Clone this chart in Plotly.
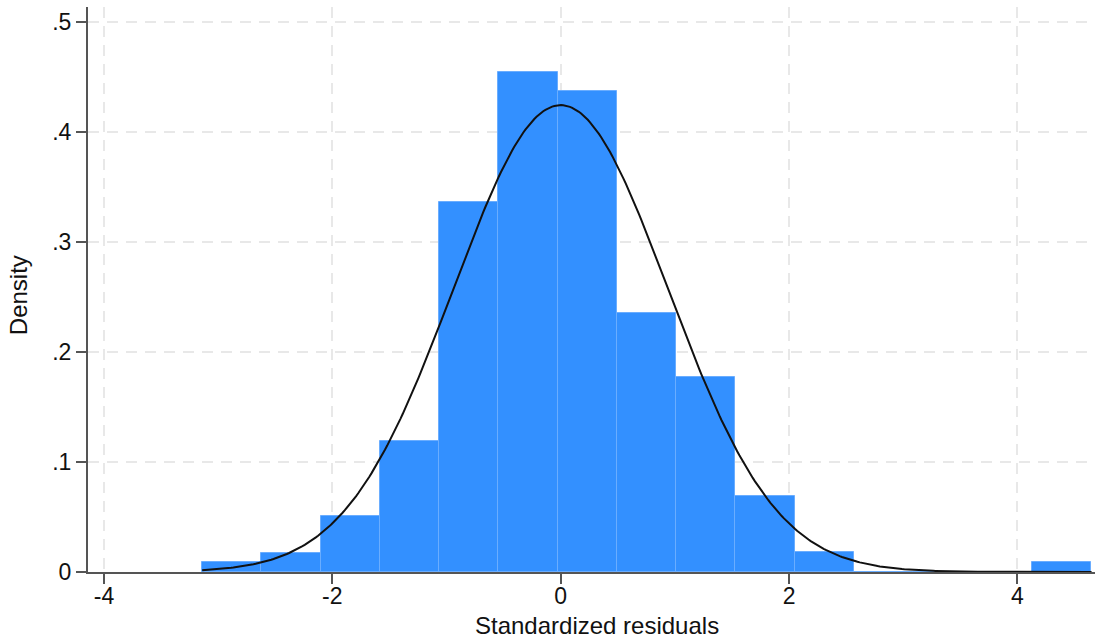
import numpy as np
import plotly.graph_objects as go

# Histogram of standardized residuals (density scale)
bin_start = -3.14
bin_width = 0.519
densities = [0.009, 0.0175, 0.051, 0.119, 0.336, 0.4545, 0.437,
             0.235, 0.177, 0.069, 0.018, 0.0, 0.0, 0.0, 0.009]

# Normal density overlay parameters
norm_mean = 0.0
norm_sd = 0.94
x_min, x_max = -3.14, 4.65

x_ticks = [-4, -2, 0, 2, 4]
x_tick_text = ["-4", "-2", "0", "2", "4"]
y_ticks = [0, 0.1, 0.2, 0.3, 0.4, 0.5]
y_tick_text = ["0", ".1", ".2", ".3", ".4", ".5"]

x_title = "Standardized residuals"
y_title = "Density"

centers = [bin_start + bin_width * (i + 0.5) for i in range(len(densities))]

xs = np.linspace(x_min, x_max, 400)
ys = np.exp(-0.5 * ((xs - norm_mean) / norm_sd) ** 2) / (norm_sd * np.sqrt(2 * np.pi))

fig = go.Figure()
fig.add_trace(go.Bar(
    x=centers, y=densities, width=bin_width,
    marker=dict(color="#3390ff", line=dict(color="#6aadff", width=1)),
    showlegend=False,
))
fig.add_trace(go.Scatter(
    x=xs, y=ys, mode="lines",
    line=dict(color="#111111", width=2),
    showlegend=False,
))

font = "Liberation Sans, Arial, sans-serif"
grid = dict(showgrid=True, gridcolor="#e8e8e8", griddash="11px,8px", gridwidth=2)
fig.update_layout(
    width=1097, height=640,
    margin=dict(l=88, r=2, t=7, b=68),
    paper_bgcolor="white", plot_bgcolor="white",
    bargap=0,
    font=dict(family=font, size=23, color="#111111"),
    xaxis=dict(
        range=[-4.14, 4.68],
        tickvals=x_ticks, ticktext=x_tick_text,
        ticks="outside", ticklen=10, tickwidth=2, tickcolor="#555555",
        ticklabelstandoff=-8,
        showline=True, linecolor="#555555", linewidth=2,
        zeroline=False,
        **grid,
    ),
    yaxis=dict(
        range=[0, 0.5136],
        tickvals=y_ticks, ticktext=y_tick_text,
        ticks="outside", ticklen=10, tickwidth=2, tickcolor="#555555",
        showline=True, linecolor="#555555", linewidth=2,
        zeroline=False,
        **grid,
    ),
    annotations=[
        dict(text=x_title, xref="paper", yref="paper", x=0.5055, y=-0.094,
             xanchor="center", yanchor="middle", showarrow=False,
             font=dict(size=24)),
        dict(text=y_title, xref="paper", yref="paper", x=-0.0695, y=0.49,
             xanchor="center", yanchor="middle", showarrow=False, textangle=-90,
             font=dict(size=24)),
    ],
)

fig.write_html("out.html")
